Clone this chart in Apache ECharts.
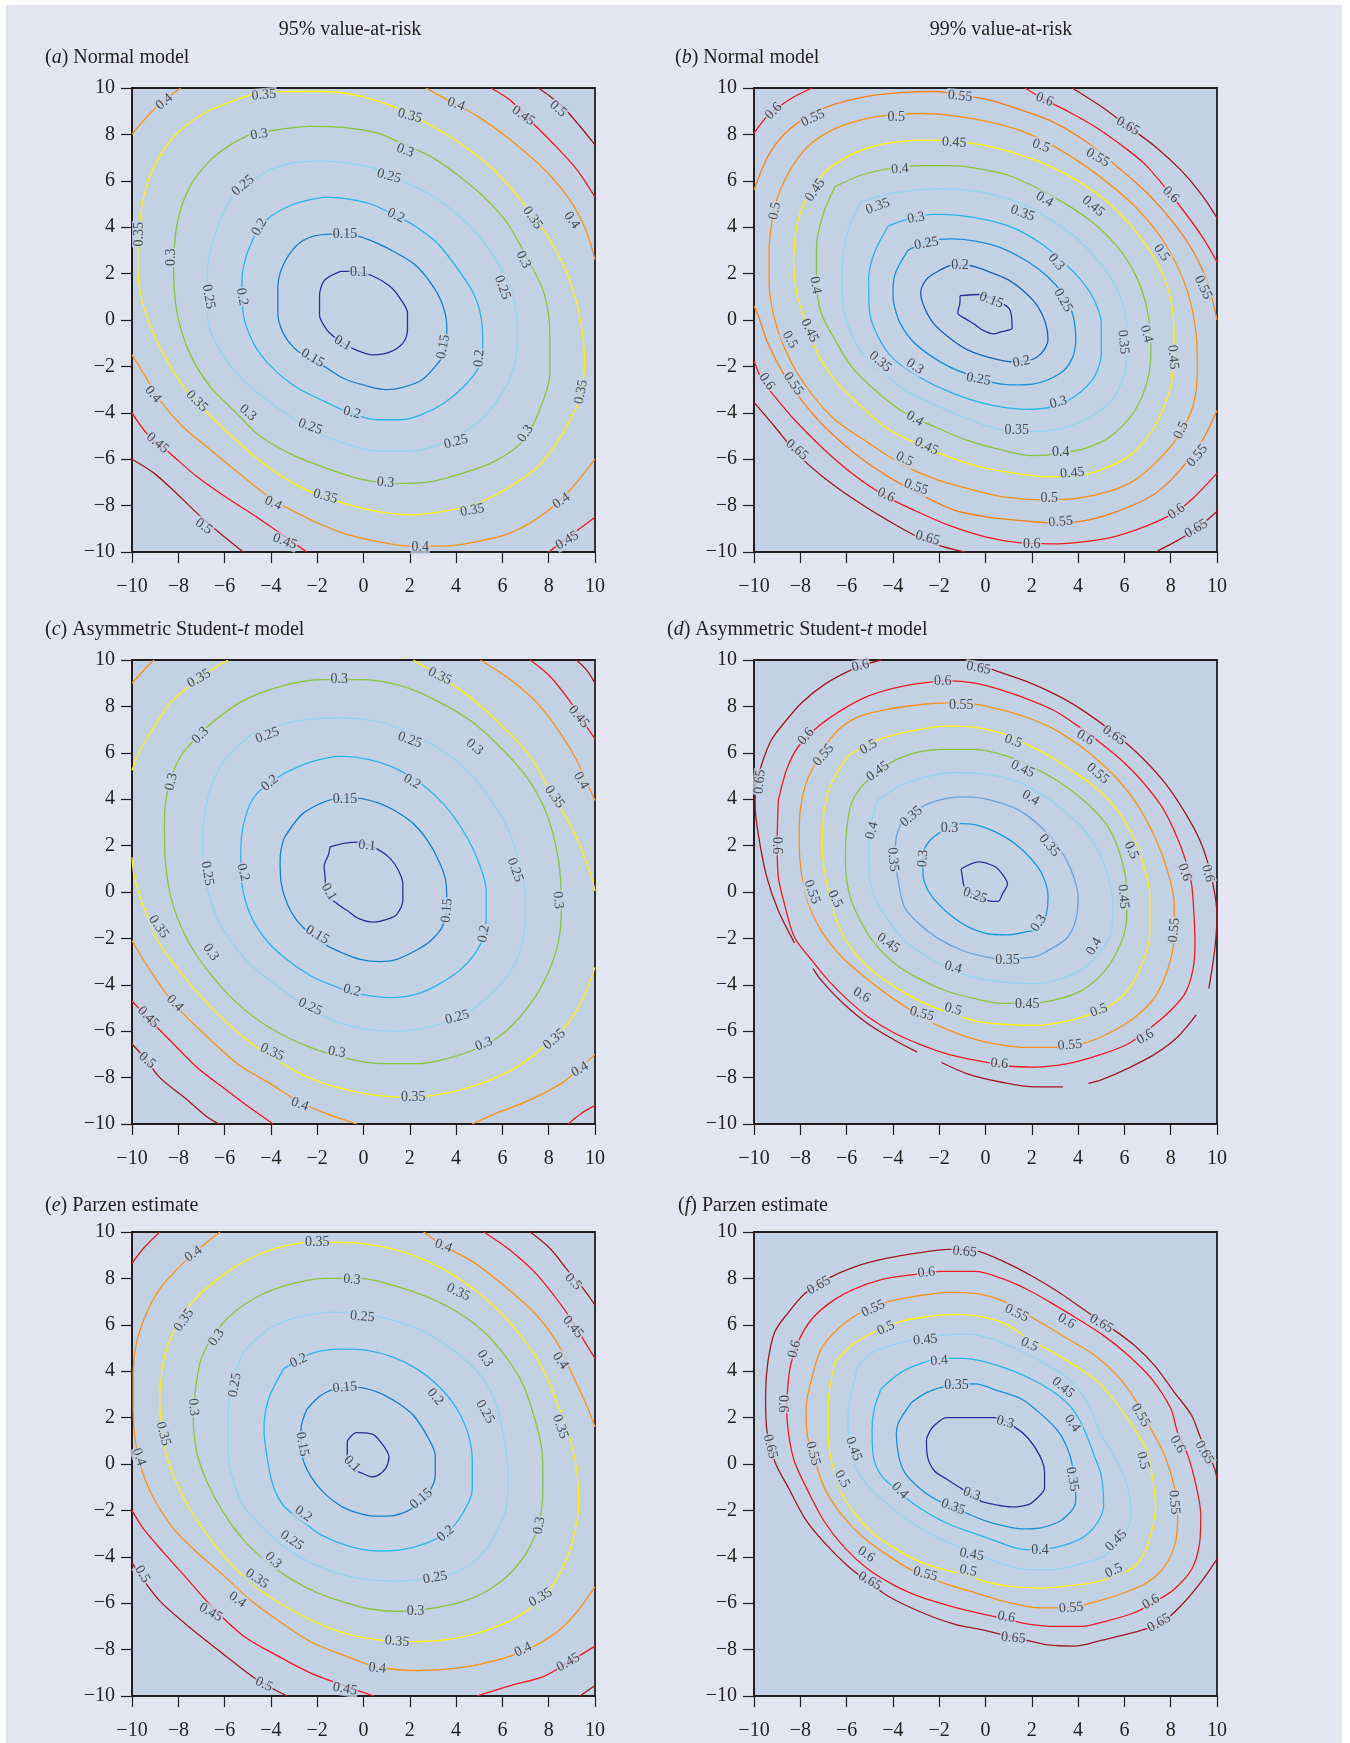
<!DOCTYPE html>
<html><head><meta charset="utf-8">
<script src="https://cdn.jsdelivr.net/npm/echarts@6/dist/echarts.min.js"></script>
<style>html,body{margin:0;padding:0;background:#fff}#c{width:1350px;height:1743px}</style>
</head><body><div id="c"></div>
<script>
// ---------- DATA: contour polylines (data units), each contour = list of segments ----------
const TICKS = [-10,-8,-6,-4,-2,0,2,4,6,8,10];

// (a) Normal model, 95%
const A_010 = [[[-1.0,2.1],[-0.6,2.1],[0.1,2.0],[0.6,1.8],[1.2,1.4],[1.6,0.9],[1.9,0.3],[1.9,-0.4],[1.7,-1.0],[1.1,-1.4],[0.4,-1.5],[-0.3,-1.3],[-0.9,-1.0],[-1.3,-0.7],[-1.6,-0.4],[-1.9,0.2],[-1.9,1.0],[-1.7,1.7],[-1.0,2.1]]];
const A_015 = [[[-1.4,3.7],[-0.9,3.7],[-0.2,3.6],[0.6,3.3],[1.4,2.9],[2.2,2.4],[2.9,1.6],[3.4,0.7],[3.6,-0.3],[3.5,-1.4],[3.1,-2.0],[2.5,-2.6],[1.7,-2.9],[1.0,-3.0],[0.0,-2.8],[-0.9,-2.5],[-1.7,-2.0],[-2.3,-1.7],[-3.0,-1.2],[-3.5,-0.5],[-3.7,0.3],[-3.7,1.4],[-3.5,2.3],[-2.9,3.2],[-2.2,3.6],[-1.4,3.7]]];
const A_020 = [[[-1.7,5.3],[-0.9,5.25],[0.3,5.0],[1.4,4.5],[2.3,4.0],[3.2,3.3],[4.0,2.3],[4.75,1.15],[5.1,0.0],[5.15,-1.0],[5.0,-2.0],[4.3,-2.9],[3.45,-3.6],[2.45,-4.1],[1.6,-4.3],[0.6,-4.3],[-0.6,-4.0],[-1.7,-3.5],[-2.9,-2.9],[-4.0,-2.0],[-4.75,-1.0],[-5.2,0.3],[-5.25,1.7],[-4.9,3.2],[-4.2,4.3],[-3.0,5.0],[-1.7,5.3]]];
const A_025 = [[[-4.0,6.5],[-2.9,6.8],[-1.7,6.85],[-0.6,6.75],[0.6,6.5],[1.7,6.0],[2.9,5.4],[4.0,4.6],[5.0,3.6],[5.9,2.3],[6.5,0.85],[6.65,-0.6],[6.5,-2.0],[5.9,-3.3],[4.9,-4.45],[3.45,-5.3],[2.0,-5.65],[0.6,-5.65],[-0.9,-5.3],[-2.3,-4.7],[-3.75,-3.75],[-5.2,-2.6],[-6.3,-1.15],[-6.75,0.3],[-6.75,2.0],[-6.3,4.0],[-5.5,5.5],[-4.0,6.5]]];
const A_030 = [[[-4.9,8.0],[-3.75,8.2],[-2.3,8.35],[-0.9,8.3],[0.6,8.05],[1.7,7.6],[2.9,7.05],[4.0,6.3],[5.2,5.3],[6.2,4.2],[7.05,2.7],[7.8,1.15],[8.05,-0.6],[8.05,-2.3],[7.6,-3.9],[6.9,-5.2],[5.75,-6.05],[4.3,-6.6],[2.7,-7.0],[1.3,-7.05],[-0.15,-6.85],[-1.7,-6.35],[-3.2,-5.75],[-4.6,-4.9],[-5.5,-4.0],[-6.6,-2.9],[-7.5,-1.45],[-8.05,0.3],[-8.2,2.15],[-8.05,4.15],[-7.5,5.75],[-6.6,6.9],[-5.75,7.55],[-4.9,8.0]]];
const A_035 = [[[-9.75,2.9],[-9.5,5.3],[-8.9,6.9],[-8.05,8.05],[-6.9,8.9],[-5.75,9.4],[-4.45,9.8],[-3.0,9.85],[-1.6,9.85],[-0.15,9.65],[1.3,9.2],[2.7,8.5],[4.2,7.6],[5.6,6.5],[6.9,5.05],[8.05,3.45],[8.9,1.75],[9.4,-0.15],[9.55,-1.9],[9.3,-3.45],[8.6,-4.9],[7.5,-6.35],[6.05,-7.35],[4.9,-7.9],[3.45,-8.25],[2.0,-8.4],[0.6,-8.25],[-0.85,-7.9],[-2.3,-7.4],[-3.75,-6.6],[-5.2,-5.45],[-6.6,-4.15],[-7.75,-2.9],[-8.8,-1.15],[-9.5,0.6],[-9.75,2.3],[-9.75,2.9]]];
const A_040 = [[[-10,8.0],[-9.5,8.6],[-8.8,9.3],[-7.9,10]],[[2.7,10],[3.6,9.5],[4.9,8.8],[6.3,7.8],[7.8,6.5],[8.9,5.2],[9.6,3.9],[10,2.6]],[[-10,-1.5],[-9.5,-2.3],[-8.8,-3.45],[-7.8,-4.6],[-6.6,-5.6],[-5.2,-6.75],[-3.9,-7.75],[-2.3,-8.6],[-0.85,-9.2],[0.6,-9.55],[2.0,-9.75],[3.45,-9.75],[4.9,-9.55],[6.3,-9.2],[7.8,-8.35],[8.9,-7.35],[10,-6.0]]];
const A_045 = [[[5.5,10],[6.3,9.5],[7.2,8.6],[8.2,7.6],[9.2,6.5],[10,5.3]],[[-10,-4.0],[-9.35,-4.9],[-8.35,-5.75],[-7.2,-6.75],[-6.0,-7.6],[-4.6,-8.5],[-3.3,-9.4],[-2.45,-10]],[[8.0,-10],[8.8,-9.4],[10,-8.5]]];
const A_050 = [[[7.55,10],[8.05,9.65],[8.65,9.15],[9.35,8.35],[10,7.55]],[[-10,-6.0],[-9.05,-6.6],[-8.05,-7.5],[-6.9,-8.6],[-6.0,-9.35],[-5.2,-10]]];
const A_LEVELS = [[0.1,A_010],[0.15,A_015],[0.2,A_020],[0.25,A_025],[0.3,A_030],[0.35,A_035],[0.4,A_040],[0.45,A_045],[0.5,A_050]];
const A_LABELS = [[-8.6,9.4,0.4],[-4.3,9.7,0.35],[2.0,8.8,0.35],[4.0,9.3,0.4],[6.9,8.8,0.45],[8.4,9.1,0.5],[-4.5,8.0,0.3],[1.8,7.3,0.3],[-5.2,5.8,0.25],[1.1,6.2,0.25],[1.4,4.5,0.2],[-4.5,4.0,0.2],[-0.8,3.7,0.15],[-0.2,2.05,0.1],[-9.7,3.7,0.35],[-8.3,2.7,0.3],[-6.7,1.0,0.25],[-5.25,1.0,0.2],[7.3,4.4,0.35],[9.0,4.3,0.4],[6.9,2.6,0.3],[6.0,1.4,0.25],[3.45,-1.15,0.15],[5.0,-1.65,0.2],[9.4,-3.1,0.35],[-0.9,-1.0,0.1],[-2.2,-1.65,0.15],[-0.5,-4.0,0.2],[-2.3,-4.6,0.25],[4.0,-5.25,0.25],[7.0,-4.9,0.3],[-5.0,-4.0,0.3],[-7.2,-3.5,0.35],[-9.1,-3.2,0.4],[-8.9,-5.3,0.45],[0.95,-7.0,0.3],[-1.65,-7.6,0.35],[4.7,-8.2,0.35],[-3.9,-7.9,0.4],[8.55,-7.8,0.4],[-6.9,-8.9,0.5],[-3.4,-9.55,0.45],[2.45,-9.8,0.4],[8.8,-9.5,0.45]];
const A_ANGLES = [40,5,-15,-20,-35,-40,10,-20,40,-15,-25,60,0,0,90,90,-80,-80,-55,-55,-65,-70,80,85,80,-30,-30,-15,-20,15,55,-40,-45,-50,-40,-5,-15,10,-25,35,-35,-20,0,30];

// (b) Normal model, 99%
const B_015 = [[[-1.1,1.05],[-0.25,1.1],[0.55,0.8],[1.05,0.45],[1.15,-0.35],[0.7,-0.5],[0.35,-0.6],[-0.1,-0.45],[-0.45,-0.2],[-0.85,0.05],[-1.2,0.3],[-1.1,0.8],[-1.1,1.05]]];
const B_020 = [[[-2.05,2.1],[-1.45,2.35],[-0.75,2.35],[0.1,2.1],[0.95,1.75],[1.7,1.2],[2.25,0.6],[2.6,-0.15],[2.7,-0.85],[2.4,-1.45],[1.85,-1.75],[1.1,-1.8],[0.1,-1.6],[-0.75,-1.3],[-1.45,-0.85],[-2.2,-0.2],[-2.6,0.45],[-2.8,1.15],[-2.55,1.75],[-2.05,2.1]]];
const B_025 = [[[-3.35,3.0],[-2.5,3.4],[-1.45,3.5],[-0.45,3.4],[0.7,3.1],[1.85,2.5],[2.7,1.85],[3.35,1.1],[3.75,0.3],[3.9,-0.85],[3.7,-1.75],[3.15,-2.35],[2.1,-2.75],[1.1,-2.8],[0.1,-2.65],[-0.75,-2.35],[-1.6,-2.0],[-2.5,-1.45],[-3.2,-0.85],[-3.75,0.0],[-4.0,1.15],[-3.9,2.0],[-3.35,3.0]]];
const B_030 = [[[-4.2,4.05],[-3.2,4.4],[-2.2,4.55],[-1.05,4.5],[0.1,4.3],[1.25,3.95],[2.4,3.3],[3.25,2.6],[4.1,1.75],[4.7,0.85],[5.0,-0.15],[5.0,-1.45],[4.7,-2.45],[3.85,-3.3],[2.85,-3.75],[1.7,-3.85],[0.4,-3.7],[-0.75,-3.4],[-1.9,-2.95],[-3.05,-2.35],[-4.05,-1.6],[-4.65,-0.7],[-5.0,0.3],[-5.05,1.75],[-4.8,2.9],[-4.2,4.05]]];
const B_035 = [[[-5.35,5.1],[-4.35,5.4],[-3.05,5.6],[-1.9,5.65],[-0.45,5.55],[0.7,5.3],[1.85,4.9],[2.85,4.3],[3.85,3.6],[4.7,2.75],[5.45,1.75],[5.95,0.6],[6.15,-0.85],[6.0,-2.3],[5.45,-3.45],[4.55,-4.15],[3.55,-4.6],[2.4,-4.8],[1.1,-4.8],[0.0,-4.55],[-1.05,-4.15],[-2.2,-3.65],[-3.35,-3.1],[-4.35,-2.35],[-5.2,-1.6],[-5.8,-0.6],[-6.15,0.6],[-6.2,2.0],[-6.05,3.45],[-5.65,4.6],[-5.35,5.1]]];
const B_040 = [[[-6.5,5.75],[-5.35,6.25],[-4.05,6.55],[-2.75,6.65],[-1.6,6.65],[-0.45,6.55],[0.95,6.25],[2.4,5.6],[3.55,4.95],[4.7,4.15],[5.7,3.15],[6.45,2.0],[6.95,0.6],[7.15,-1.15],[7.0,-2.6],[6.45,-3.9],[5.55,-4.9],[4.55,-5.45],[3.25,-5.75],[2.0,-5.85],[0.7,-5.6],[-0.75,-5.2],[-2.2,-4.6],[-3.65,-3.9],[-4.8,-3.0],[-5.8,-2.0],[-6.5,-0.85],[-7.1,0.3],[-7.3,1.75],[-7.3,3.15],[-7.0,4.6],[-6.5,5.75]]];
const B_045 = [[[-8.3,2.45],[-8.15,4.05],[-7.75,5.2],[-6.95,6.35],[-5.95,7.05],[-4.8,7.5],[-3.65,7.7],[-2.5,7.75],[-1.35,7.7],[0.1,7.5],[1.55,7.1],[2.85,6.6],[4.15,5.9],[5.3,5.05],[6.3,4.05],[7.15,2.9],[7.75,1.75],[8.1,0.3],[8.15,-1.15],[8.05,-2.6],[7.65,-3.9],[7.0,-5.05],[6.15,-5.9],[5.0,-6.45],[3.85,-6.75],[2.55,-6.75],[1.25,-6.6],[-0.15,-6.35],[-1.6,-5.9],[-3.05,-5.3],[-4.35,-4.6],[-5.5,-3.6],[-6.5,-2.6],[-7.25,-1.45],[-7.8,0.0],[-8.15,1.15],[-8.3,2.45]]];
const B_050 = [[[-9.35,3.15],[-9.1,4.9],[-8.5,6.35],[-7.65,7.5],[-6.5,8.25],[-5.05,8.7],[-3.9,8.85],[-2.75,8.9],[-1.35,8.8],[0.1,8.55],[1.55,8.15],[2.85,7.55],[4.15,6.75],[5.3,5.9],[6.45,4.9],[7.45,3.75],[8.15,2.6],[8.75,1.15],[9.1,-0.6],[9.15,-2.15],[8.95,-3.75],[8.3,-5.05],[7.45,-6.05],[6.45,-6.9],[5.3,-7.4],[3.85,-7.7],[2.4,-7.75],[0.95,-7.65],[-0.45,-7.35],[-2.2,-6.85],[-3.65,-6.2],[-5.05,-5.3],[-6.5,-4.3],[-7.65,-3.0],[-8.5,-1.6],[-9.1,0.0],[-9.35,1.75],[-9.35,3.15]]];
const B_055 = [[[-10,5.6],[-9.4,7.05],[-8.65,8.05],[-7.65,8.8],[-6.5,9.3],[-5.05,9.65],[-3.65,9.8],[-2.2,9.85],[-1.05,9.7],[0.1,9.5],[1.55,9.05],[3.0,8.5],[4.4,7.65],[5.7,6.6],[7.0,5.45],[8.15,4.15],[9.0,2.9],[9.6,1.6],[10,0.0]],[[10,-3.9],[9.3,-5.3],[8.15,-6.75],[7.15,-7.6],[5.7,-8.25],[4.3,-8.65],[3.0,-8.75],[1.55,-8.65],[0.1,-8.5],[-1.35,-8.2],[-2.75,-7.55],[-4.2,-6.75],[-5.65,-5.75],[-6.95,-4.6],[-7.95,-3.45],[-8.65,-2.45],[-9.4,-1.0],[-9.8,0.15],[-10,0.6]]];
const B_060 = [[[-10,8.05],[-9.55,8.65],[-9.1,9.05],[-8.4,9.55],[-7.5,10]],[[1.7,10],[2.55,9.5],[3.55,9.0],[4.7,8.35],[5.85,7.55],[6.85,6.75],[7.85,5.6],[8.75,4.45],[9.45,3.45],[10,2.5]],[[10,-6.6],[9.0,-7.65],[8.25,-8.25],[7.15,-8.8],[5.7,-9.3],[4.3,-9.55],[2.85,-9.65],[1.4,-9.6],[0.0,-9.35],[-1.45,-8.9],[-2.75,-8.35],[-4.3,-7.6],[-5.65,-6.7],[-6.95,-5.6],[-8.25,-4.3],[-9.1,-3.3],[-9.65,-2.6],[-10,-1.75]]];
const B_065 = [[[3.75,10],[5.0,9.2],[6.15,8.35],[7.3,7.5],[8.45,6.45],[9.3,5.45],[10,4.4]],[[-10,-3.55],[-9.1,-4.6],[-8.15,-5.75],[-7.1,-6.7],[-5.65,-7.75],[-4.2,-8.65],[-2.5,-9.55],[-0.9,-10]],[[7.35,-10],[8.3,-9.5],[9.1,-9.0],[10,-8.25]]];
const B_LEVELS = [[0.15,B_015],[0.2,B_020],[0.25,B_025],[0.3,B_030],[0.35,B_035],[0.4,B_040],[0.45,B_045],[0.5,B_050],[0.55,B_055],[0.6,B_060],[0.65,B_065]];
const B_LABELS = [[-9.15,9.0,0.6],[-7.45,8.7,0.55],[-3.85,8.75,0.5],[-1.1,9.65,0.55],[2.55,9.5,0.6],[6.15,8.35,0.65],[-1.35,7.65,0.45],[2.4,7.5,0.5],[4.85,7.0,0.55],[-3.7,6.5,0.4],[-7.35,5.6,0.45],[-9.1,4.7,0.5],[-4.65,4.9,0.35],[2.55,5.2,0.4],[1.6,4.6,0.35],[4.65,4.9,0.45],[8.0,5.4,0.6],[-3.0,4.4,0.3],[-2.55,3.3,0.25],[-1.1,2.35,0.2],[0.25,0.85,0.15],[3.05,2.5,0.3],[3.35,0.85,0.25],[7.6,2.9,0.5],[9.4,1.4,0.55],[-7.35,1.5,0.4],[-7.6,-0.45,0.45],[-8.45,-0.85,0.5],[-9.45,-2.65,0.6],[-8.3,-2.75,0.55],[-4.55,-1.8,0.35],[-3.05,-2.0,0.3],[-0.3,-2.55,0.25],[1.55,-1.8,0.2],[5.95,-0.95,0.35],[6.95,-0.6,0.4],[8.1,-1.6,0.45],[3.15,-3.55,0.3],[1.35,-4.75,0.35],[-3.05,-4.25,0.4],[3.25,-5.7,0.4],[-2.55,-5.45,0.45],[3.75,-6.6,0.45],[8.45,-4.75,0.5],[-3.5,-6.0,0.5],[2.75,-7.7,0.5],[9.15,-5.85,0.55],[-3.0,-7.2,0.55],[3.25,-8.7,0.55],[8.25,-8.25,0.6],[-4.3,-7.55,0.6],[2.0,-9.65,0.6],[-8.15,-5.6,0.65],[-2.5,-9.4,0.65],[9.1,-9.0,0.65]];
const B_ANGLES = [45,25,0,-5,-20,-30,-3,-20,-30,5,55,80,20,-30,-20,-40,-45,10,10,0,-20,-50,-60,-55,-65,-80,-65,-60,-55,-55,-40,-35,-10,10,-85,-75,-85,15,0,-30,0,-25,5,65,-25,0,50,-20,5,35,-25,0,-40,-15,30];

// (c) Asymmetric Student-t, 95%
const C_010 = [[[-1.45,1.95],[-0.85,2.1],[-0.2,2.15],[0.6,1.85],[1.15,1.45],[1.5,0.95],[1.7,0.35],[1.7,-0.35],[1.45,-0.95],[1.1,-1.15],[0.45,-1.3],[-0.2,-1.15],[-0.7,-0.8],[-1.15,-0.5],[-1.65,0.0],[-1.65,0.5],[-1.7,1.1],[-1.5,1.65],[-1.45,1.95]]];
const C_015 = [[[-2.0,3.75],[-1.3,4.0],[-0.3,4.05],[0.6,3.85],[1.45,3.45],[2.15,2.95],[2.75,2.25],[3.25,1.35],[3.55,0.5],[3.6,-0.5],[3.4,-1.5],[2.9,-2.1],[2.3,-2.5],[1.45,-2.9],[0.7,-3.0],[-0.15,-2.9],[-0.85,-2.65],[-1.6,-2.3],[-2.3,-1.8],[-2.9,-1.2],[-3.3,-0.5],[-3.55,0.35],[-3.6,1.35],[-3.45,2.25],[-3.0,2.95],[-2.6,3.4],[-2.0,3.75]]];
const C_020 = [[[-3.45,5.1],[-2.3,5.6],[-1.0,5.85],[0.3,5.7],[1.45,5.3],[2.45,4.7],[3.45,3.8],[4.3,2.65],[4.95,1.35],[5.3,0.05],[5.3,-1.1],[5.05,-2.25],[4.3,-3.25],[3.3,-3.95],[2.3,-4.4],[1.15,-4.55],[-0.15,-4.4],[-1.15,-4.1],[-2.3,-3.6],[-3.45,-2.8],[-4.3,-1.95],[-4.9,-0.95],[-5.25,0.35],[-5.3,1.8],[-5.1,3.25],[-4.6,4.25],[-3.45,5.1]]];
const C_025 = [[[-4.75,6.85],[-3.0,7.35],[-1.15,7.5],[0.6,7.35],[2.0,6.85],[3.15,6.25],[4.3,5.4],[5.3,4.25],[6.2,2.8],[6.75,1.2],[7.0,-0.5],[6.85,-2.25],[6.2,-3.65],[5.05,-4.8],[3.75,-5.55],[2.45,-5.9],[1.3,-6.0],[0.0,-5.9],[-1.15,-5.6],[-2.3,-5.05],[-3.45,-4.25],[-4.75,-3.25],[-5.75,-2.1],[-6.45,-0.8],[-6.85,0.65],[-6.95,2.25],[-6.75,3.95],[-6.2,5.4],[-5.45,6.25],[-4.75,6.85]]];
const C_030 = [[[-6.6,7.25],[-5.2,8.25],[-3.45,8.9],[-1.75,9.15],[0.0,9.15],[1.75,8.85],[3.15,8.25],[4.6,7.4],[5.9,6.25],[7.05,4.95],[7.9,3.4],[8.4,1.5],[8.55,-0.5],[8.4,-2.25],[7.75,-3.95],[6.75,-5.4],[5.6,-6.4],[4.05,-7.05],[2.3,-7.4],[0.85,-7.4],[-0.6,-7.2],[-2.3,-6.7],[-4.05,-5.85],[-5.45,-4.8],[-6.6,-3.55],[-7.5,-2.25],[-8.2,-0.65],[-8.55,1.2],[-8.6,2.95],[-8.45,4.4],[-7.9,5.85],[-6.6,7.25]]];
const C_035 = [[[-10,5.25],[-9.65,6.1],[-9.05,7.1],[-8.35,8.15],[-7.5,8.9],[-6.6,9.55],[-5.85,10]],[[2.15,10],[3.3,9.3],[4.6,8.4],[6.05,7.1],[7.2,5.85],[8.05,4.4],[8.9,2.95],[9.5,1.65],[9.85,0.65],[10,0.05]],[[10,-3.25],[9.5,-4.55],[8.8,-5.7],[7.75,-6.7],[6.35,-7.7],[4.3,-8.5],[2.0,-8.85],[0.15,-8.7],[-2.0,-8.15],[-3.75,-7.25],[-5.2,-6.25],[-6.6,-4.95],[-7.75,-3.65],[-8.8,-2.25],[-9.5,-0.65],[-9.9,0.65],[-10,1.5]]];
const C_040 = [[[-10,9.0],[-9.5,9.55],[-9.05,10]],[[5.05,10],[6.35,9.15],[7.5,8.15],[8.5,6.85],[9.2,5.7],[9.65,4.7],[10,3.95]],[[10,-7.0],[9.4,-7.55],[8.55,-8.25],[7.1,-9.0],[5.7,-9.55],[4.7,-10]],[[-10,-2.1],[-9.2,-3.4],[-8.2,-4.8],[-6.9,-6.1],[-5.45,-7.4],[-4.05,-8.25],[-2.75,-9.05],[-1.6,-9.55],[-0.3,-10]]];
const C_045 = [[[7.2,10],[8.05,9.3],[8.9,8.25],[9.35,7.55],[10,6.6]],[[-10,-4.7],[-9.35,-5.4],[-8.35,-6.4],[-7.2,-7.55],[-5.9,-8.55],[-4.9,-9.3],[-3.9,-10]],[[8.85,-10],[9.4,-9.55],[10,-9.2]]];
const C_050 = [[[9.2,10],[9.65,9.55],[10,9.0]],[[-10,-6.55],[-9.5,-7.1],[-8.8,-8.0],[-7.75,-8.85],[-6.75,-9.7],[-6.25,-10]]];
const C_LEVELS = [[0.1,C_010],[0.15,C_015],[0.2,C_020],[0.25,C_025],[0.3,C_030],[0.35,C_035],[0.4,C_040],[0.45,C_045],[0.5,C_050]];
const C_LABELS = [[-7.1,9.2,0.35],[-1.05,9.15,0.3],[3.3,9.3,0.35],[9.3,7.55,0.45],[-7.05,6.75,0.3],[-4.15,6.75,0.25],[2.0,6.55,0.25],[4.8,6.25,0.3],[-8.3,4.75,0.3],[-4.05,4.7,0.2],[2.1,4.75,0.2],[9.4,4.8,0.4],[8.25,4.1,0.35],[-0.8,4.0,0.15],[0.15,2.0,0.1],[-6.75,0.8,0.25],[-5.2,0.85,0.2],[6.55,0.95,0.25],[8.4,-0.35,0.3],[-1.5,0.0,0.1],[3.6,-0.8,0.15],[5.2,-1.8,0.2],[-8.85,-1.5,0.35],[-6.6,-2.6,0.3],[-2.0,-1.85,0.15],[-0.5,-4.25,0.2],[-2.3,-4.95,0.25],[4.05,-5.4,0.25],[-8.15,-4.8,0.4],[-9.3,-5.4,0.45],[-1.15,-6.9,0.3],[5.2,-6.55,0.3],[8.25,-6.35,0.35],[-3.95,-6.9,0.35],[-9.35,-7.25,0.5],[9.35,-7.65,0.4],[-2.75,-9.15,0.4],[2.15,-8.85,0.35]];
const C_ANGLES = [30,0,-25,-50,45,20,-20,-40,75,40,-30,-60,-55,0,-5,-80,-75,-70,-85,-60,85,80,-55,-55,-30,-15,-25,15,-45,-45,-10,20,40,-25,-40,30,-20,0];

// (d) Asymmetric Student-t, 99%
const D_025 = [[[-1.05,1.0],[-0.3,1.3],[0.4,1.1],[0.7,0.8],[0.95,0.35],[0.75,-0.05],[0.55,-0.4],[0.3,-0.4],[-0.45,-0.15],[-0.9,0.2],[-1.0,0.65],[-1.05,1.0]]];
const D_030 = [[[-2.2,2.4],[-1.6,2.8],[-1.05,2.95],[-0.45,2.9],[0.4,2.6],[1.25,2.1],[2.0,1.4],[2.5,0.65],[2.7,-0.2],[2.6,-1.05],[2.25,-1.6],[1.85,-1.7],[0.95,-1.85],[0.1,-1.8],[-0.75,-1.5],[-1.45,-1.05],[-2.05,-0.5],[-2.5,0.1],[-2.7,0.8],[-2.7,1.65],[-2.5,2.1],[-2.2,2.4]]];
const D_035 = [[[-3.65,2.95],[-2.6,3.75],[-1.6,4.05],[-0.75,4.1],[0.25,3.95],[1.4,3.55],[2.4,2.8],[3.15,1.95],[3.7,0.95],[4.0,-0.2],[3.9,-1.2],[3.55,-1.95],[3.0,-2.35],[2.25,-2.75],[1.55,-2.85],[0.7,-2.9],[-0.2,-2.75],[-1.05,-2.5],[-2.05,-2.0],[-2.9,-1.35],[-3.5,-0.65],[-3.75,0.35],[-3.9,1.5],[-3.85,2.4],[-3.65,2.95]]];
const D_040 = [[[-4.65,3.95],[-3.65,4.6],[-2.6,4.95],[-1.45,5.15],[-0.2,5.1],[1.1,4.85],[2.1,4.4],[3.15,3.7],[4.15,2.8],[4.85,1.8],[5.3,0.65],[5.5,-0.5],[5.45,-1.65],[5.0,-2.5],[4.3,-3.25],[3.25,-3.75],[2.1,-3.95],[0.95,-3.9],[-0.2,-3.75],[-1.35,-3.4],[-2.5,-2.8],[-3.5,-2.1],[-4.2,-1.2],[-4.8,-0.2],[-5.05,1.1],[-5.05,2.4],[-4.8,3.5],[-4.65,3.95]]];
const D_045 = [[[-4.9,4.95],[-4.05,5.6],[-3.05,6.0],[-1.75,6.15],[-0.45,6.15],[0.95,5.85],[2.1,5.35],[3.25,4.7],[4.4,3.8],[5.3,2.8],[5.85,1.5],[6.1,0.1],[6.1,-1.05],[5.85,-2.2],[5.15,-3.4],[4.15,-4.25],[3.0,-4.65],[1.85,-4.8],[0.7,-4.8],[-0.45,-4.6],[-1.6,-4.3],[-2.75,-3.8],[-3.9,-3.1],[-4.8,-2.2],[-5.35,-1.35],[-5.85,-0.2],[-6.05,1.25],[-6.0,2.65],[-5.8,3.8],[-5.35,4.55],[-4.9,4.95]]];
const D_050 = [[[-5.95,5.85],[-5.05,6.4],[-4.05,6.75],[-2.9,7.0],[-1.75,7.15],[-0.45,7.1],[0.7,6.85],[1.7,6.4],[2.7,5.9],[3.7,5.25],[4.7,4.55],[5.55,3.7],[6.3,2.55],[6.85,1.1],[7.1,-0.2],[7.1,-1.8],[6.7,-3.25],[6.0,-4.4],[5.0,-5.1],[3.55,-5.55],[2.1,-5.75],[0.7,-5.7],[-0.45,-5.55],[-1.6,-5.2],[-2.75,-4.75],[-3.9,-4.1],[-5.05,-3.25],[-5.95,-2.2],[-6.5,-1.05],[-6.85,0.35],[-7.05,1.8],[-7.0,3.25],[-6.65,4.7],[-5.95,5.85]]];
const D_055 = [[[-7.35,5.55],[-6.5,6.85],[-5.5,7.55],[-4.35,7.85],[-3.05,8.05],[-1.6,8.15],[-0.45,8.1],[0.7,7.85],[1.85,7.5],[3.0,7.0],[4.15,6.25],[5.0,5.55],[5.85,4.7],[6.6,3.7],[7.3,2.4],[7.85,0.95],[8.15,-0.5],[8.15,-1.95],[7.85,-3.4],[7.3,-4.55],[6.45,-5.4],[5.3,-6.1],[4.15,-6.55],[3.0,-6.7],[1.85,-6.7],[0.7,-6.6],[-0.45,-6.35],[-1.6,-5.95],[-2.75,-5.4],[-3.9,-4.65],[-5.05,-3.8],[-6.2,-2.8],[-7.1,-1.65],[-7.65,-0.5],[-7.95,0.8],[-8.05,2.1],[-8.0,3.55],[-7.75,4.7],[-7.35,5.55]]];
const D_060 = [[[-8.95,3.95],[-8.6,5.25],[-8.1,6.25],[-7.2,7.15],[-6.2,7.85],[-5.05,8.45],[-3.9,8.8],[-2.75,9.0],[-1.6,9.1],[-0.45,9.0],[0.7,8.7],[1.85,8.3],[3.0,7.8],[4.0,7.15],[5.0,6.4],[5.85,5.7],[6.7,4.85],[7.6,3.7],[8.15,2.65],[8.6,1.5],[8.9,0.35],[9.0,-0.9],[9.05,-2.2],[8.95,-3.4],[8.6,-4.4],[7.85,-5.25],[7.0,-5.95],[6.15,-6.55],[5.0,-7.0],[3.55,-7.4],[2.1,-7.55],[0.95,-7.5],[-0.45,-7.25],[-1.6,-7.0],[-2.75,-6.6],[-3.9,-6.1],[-5.05,-5.4],[-5.95,-4.65],[-6.8,-3.8],[-7.5,-2.95],[-8.25,-1.95],[-8.65,-0.65],[-8.95,0.65],[-9.0,2.1],[-8.95,3.95]]];
const D_065 = [[[-8.25,-2.2],[-8.95,-0.8],[-9.45,0.65],[-9.8,2.4],[-9.95,3.7],[-9.95,4.4],[-9.65,5.55],[-9.25,6.55],[-8.65,7.35],[-7.95,8.15],[-6.95,8.95],[-5.95,9.5],[-5.05,9.85],[-4.5,10]],[[-0.9,10],[0.4,9.55],[1.85,9.05],[3.25,8.4],[4.4,7.7],[5.55,6.85],[6.7,5.85],[7.75,4.7],[8.6,3.45],[9.25,2.25],[9.65,1.1],[9.9,-0.05],[10,-1.05],[9.9,-2.5],[9.65,-4.15]],[[9.1,-5.3],[8.3,-6.25],[7.3,-7.0],[6.15,-7.6],[5.0,-8.1],[4.45,-8.25]],[[3.35,-8.4],[2.1,-8.4],[0.7,-8.2],[-0.75,-7.85],[-1.9,-7.35]],[[-2.95,-6.9],[-3.9,-6.4],[-5.05,-5.7],[-6.2,-4.75],[-7.1,-3.8],[-7.45,-3.3]]];
const D_LEVELS = [[0.25,D_025],[0.3,D_030],[0.35,D_035],[0.4,D_040],[0.45,D_045],[0.5,D_050],[0.55,D_055],[0.6,D_060],[0.65,D_065]];
const D_LABELS = [[-5.4,9.75,0.6],[-0.3,9.65,0.65],[-1.85,9.1,0.6],[-1.05,8.05,0.55],[-7.75,6.7,0.6],[-7.0,5.9,0.55],[-5.05,6.25,0.5],[-4.65,5.2,0.45],[-9.75,4.75,0.65],[1.2,6.5,0.5],[1.6,5.3,0.45],[1.95,4.05,0.4],[4.3,6.65,0.6],[5.55,6.75,0.65],[4.85,5.1,0.55],[-3.2,3.25,0.35],[-4.9,2.65,0.4],[-1.55,2.75,0.3],[-4.0,1.4,0.35],[-2.7,1.45,0.3],[2.75,2.0,0.35],[-9.0,2.0,0.6],[6.3,1.8,0.5],[8.6,0.85,0.6],[9.6,0.8,0.6],[-0.45,-0.15,0.25],[-7.5,0.0,0.55],[-6.5,-0.3,0.5],[5.95,-0.2,0.45],[2.3,-1.35,0.3],[8.15,-1.65,0.55],[-4.2,-2.2,0.45],[0.95,-2.95,0.35],[4.7,-2.35,0.4],[-1.4,-3.25,0.4],[-5.35,-4.45,0.6],[-1.4,-5.05,0.5],[1.8,-4.85,0.45],[4.9,-5.1,0.5],[-2.75,-5.25,0.55],[3.65,-6.6,0.55],[6.9,-6.25,0.6],[0.6,-7.4,0.6]];
const D_ANGLES = [15,-10,0,0,50,50,30,35,85,-20,-25,-30,-30,-35,-40,40,75,0,-85,85,-50,-90,-65,-70,-75,-20,-70,-65,-85,55,85,-35,0,60,-15,-30,-15,0,20,-15,5,30,-5];

// (e) Parzen estimate, 95%
const E_010 = [[[-0.7,1.0],[-0.3,1.35],[0.35,1.3],[0.7,1.0],[1.1,0.3],[0.95,-0.2],[0.6,-0.5],[0.35,-0.55],[-0.05,-0.4],[-0.55,-0.15],[-0.7,0.35],[-0.7,1.0]]];
const E_015 = [[[-2.45,2.35],[-1.85,2.95],[-1.15,3.25],[-0.3,3.3],[0.6,3.1],[1.45,2.65],[2.15,2.1],[2.75,1.2],[3.1,0.35],[3.1,-0.5],[2.9,-1.1],[2.45,-1.65],[1.75,-2.1],[1.0,-2.25],[0.45,-2.25],[-0.3,-2.1],[-1.0,-1.8],[-1.75,-1.2],[-2.3,-0.5],[-2.65,0.35],[-2.7,1.5],[-2.45,2.35]]];
const E_020 = [[[-3.45,4.1],[-2.3,4.75],[-1.0,4.95],[0.15,4.9],[1.3,4.6],[2.3,4.1],[3.3,3.3],[4.05,2.35],[4.55,1.2],[4.7,0.05],[4.7,-1.1],[4.3,-2.1],[3.6,-2.95],[2.6,-3.45],[1.6,-3.7],[0.6,-3.75],[-0.6,-3.55],[-1.75,-3.1],[-2.6,-2.5],[-3.45,-1.8],[-3.9,-0.95],[-4.15,0.2],[-4.3,1.5],[-4.1,2.8],[-3.45,4.1]]];
const E_025 = [[[-5.2,4.8],[-4.05,5.85],[-2.75,6.35],[-1.3,6.55],[0.15,6.45],[1.6,6.1],[2.9,5.55],[4.15,4.7],[5.2,3.65],[5.75,2.5],[6.05,1.2],[6.25,-0.3],[6.2,-1.65],[5.75,-2.95],[4.9,-4.1],[3.9,-4.7],[2.6,-4.95],[1.3,-5.05],[0.0,-4.95],[-1.15,-4.7],[-2.3,-4.25],[-3.45,-3.55],[-4.45,-2.65],[-5.2,-1.8],[-5.6,-0.8],[-5.85,0.35],[-5.85,1.8],[-5.75,3.25],[-5.2,4.8]]];
const E_030 = [[[-6.6,5.4],[-5.75,6.4],[-4.6,7.2],[-3.15,7.75],[-1.6,8.0],[-0.15,8.0],[1.3,7.7],[2.75,7.2],[4.05,6.55],[5.2,5.7],[6.2,4.55],[6.9,3.4],[7.35,2.1],[7.7,0.65],[7.75,-0.8],[7.65,-2.25],[7.2,-3.55],[6.35,-4.7],[5.2,-5.55],[4.05,-6.0],[2.75,-6.25],[1.45,-6.35],[0.3,-6.25],[-0.85,-5.95],[-2.0,-5.55],[-3.15,-4.95],[-4.15,-4.25],[-5.2,-3.25],[-6.05,-2.1],[-6.75,-0.8],[-7.2,0.5],[-7.35,1.95],[-7.25,3.25],[-7.05,4.4],[-6.6,5.4]]];
const E_035 = [[[-8.8,2.95],[-8.65,4.4],[-8.2,5.7],[-7.5,6.85],[-6.45,7.85],[-5.2,8.7],[-3.75,9.3],[-2.3,9.55],[-0.85,9.55],[0.6,9.4],[2.0,9.05],[3.45,8.4],[4.75,7.55],[5.9,6.55],[6.9,5.4],[7.75,4.1],[8.35,2.65],[8.9,1.2],[9.2,-0.2],[9.3,-1.65],[9.05,-3.25],[8.5,-4.7],[7.65,-5.85],[6.45,-6.7],[5.2,-7.2],[3.75,-7.55],[2.3,-7.65],[0.85,-7.6],[-0.6,-7.35],[-2.0,-6.85],[-3.45,-6.1],[-4.9,-5.1],[-6.05,-3.95],[-7.05,-2.65],[-7.9,-1.2],[-8.5,0.35],[-8.75,1.8],[-8.8,2.95]]];
const E_040 = [[[-6.2,10],[-7.2,9.2],[-8.05,8.4],[-8.8,7.55],[-9.35,6.55],[-9.8,5.25],[-9.95,3.95],[-9.95,2.35],[-9.85,0.95],[-9.55,-0.35],[-9.05,-1.5],[-8.2,-2.8],[-7.2,-3.8],[-6.05,-4.8],[-4.9,-5.85],[-3.75,-6.7],[-2.3,-7.65],[-0.85,-8.25],[0.6,-8.75],[2.3,-8.9],[4.05,-8.8],[5.6,-8.5],[7.05,-8.0],[8.35,-7.25],[9.2,-6.4],[10,-5.3]],[[2.6,10],[3.45,9.4],[4.75,8.7],[6.05,7.7],[7.35,6.55],[8.35,5.25],[9.05,3.8],[9.65,2.5],[10,1.6]]];
const E_045 = [[[-10,8.65],[-9.5,9.3],[-8.8,10]],[[-10,-2.0],[-9.5,-2.8],[-8.65,-3.8],[-7.75,-4.8],[-6.6,-6.1],[-5.2,-7.4],[-3.75,-8.25],[-2.3,-9.0],[-0.85,-9.55],[0.45,-10]],[[5.2,10],[6.35,9.2],[7.5,8.15],[8.65,6.7],[9.2,5.85],[10,4.55]],[[4.9,-10],[6.35,-9.55],[7.8,-9.15],[8.85,-8.55],[10,-7.85]]];
const E_050 = [[[7.2,10],[8.05,9.3],[8.9,8.25],[9.5,7.55],[10,6.85]],[[-10,-4.25],[-9.65,-4.8],[-8.8,-5.9],[-7.5,-7.05],[-6.05,-8.2],[-4.6,-9.3],[-3.3,-10]],[[9.35,-10],[10,-9.55]]];
const E_LEVELS = [[0.1,E_010],[0.15,E_015],[0.2,E_020],[0.25,E_025],[0.3,E_030],[0.35,E_035],[0.4,E_040],[0.45,E_045],[0.5,E_050]];
const E_LABELS = [[-7.35,9.05,0.4],[-2.0,9.55,0.35],[3.45,9.4,0.4],[-0.5,7.95,0.3],[4.1,7.4,0.35],[9.05,7.85,0.5],[-0.05,6.35,0.25],[-7.75,6.2,0.35],[-6.35,5.45,0.3],[9.05,5.9,0.45],[5.25,4.55,0.3],[8.5,4.45,0.4],[-2.8,4.45,0.2],[-5.55,3.4,0.25],[-0.8,3.3,0.15],[3.1,2.9,0.2],[5.25,2.25,0.25],[-7.35,2.45,0.3],[8.5,1.6,0.35],[-8.65,1.3,0.35],[-2.65,0.85,0.15],[-9.7,0.3,0.4],[-0.5,0.0,0.1],[2.5,-1.5,0.15],[-2.6,-2.15,0.2],[7.6,-2.65,0.3],[3.55,-3.0,0.2],[-3.1,-3.3,0.25],[-3.9,-4.15,0.3],[3.1,-4.9,0.25],[-4.6,-4.95,0.35],[-9.55,-4.75,0.5],[-5.45,-5.85,0.4],[7.65,-5.75,0.35],[-6.6,-6.4,0.45],[2.25,-6.35,0.3],[1.45,-7.65,0.35],[6.9,-8.0,0.4],[0.6,-8.8,0.4],[8.85,-8.55,0.45],[-4.3,-9.5,0.5],[-0.8,-9.7,0.45]];
const E_ANGLES = [35,0,-20,-5,-25,-45,-5,55,55,-50,-55,-55,25,80,5,-50,-60,-85,-70,-75,-80,-70,-45,40,-35,80,40,-35,-45,10,-35,-60,-35,30,-30,0,-5,25,-5,30,-25,-10];

// (f) Parzen estimate, 99%
const F_030 = [[[-2.05,1.8],[-1.7,2.0],[-0.75,2.0],[0.4,2.0],[1.25,1.6],[1.85,1.1],[2.35,0.35],[2.55,-0.35],[2.55,-1.05],[2.2,-1.5],[1.85,-1.75],[1.1,-1.85],[0.4,-1.75],[-0.2,-1.6],[-1.05,-1.05],[-1.6,-0.7],[-2.2,-0.3],[-2.5,0.3],[-2.55,1.0],[-2.35,1.5],[-2.05,1.8]]];
const F_035 = [[[-3.2,2.65],[-2.5,3.1],[-1.45,3.4],[-0.45,3.45],[0.55,3.15],[1.55,2.8],[2.4,2.15],[3.15,1.4],[3.55,0.65],[3.75,-0.05],[3.9,-1.35],[3.85,-1.8],[3.55,-2.2],[3.15,-2.5],[2.4,-2.75],[1.55,-2.8],[0.7,-2.65],[0.0,-2.45],[-0.75,-2.15],[-1.45,-1.85],[-2.2,-1.5],[-2.9,-1.0],[-3.5,-0.35],[-3.75,0.35],[-3.85,1.25],[-3.75,1.8],[-3.2,2.65]]];
const F_040 = [[[-4.5,3.25],[-3.65,3.95],[-2.75,4.35],[-1.9,4.55],[-1.05,4.55],[-0.2,4.45],[0.95,4.1],[2.1,3.6],[3.15,2.95],[3.85,2.25],[4.3,1.4],[4.7,0.35],[5.0,-0.5],[5.1,-1.8],[4.85,-2.5],[4.3,-3.1],[3.55,-3.45],[2.7,-3.65],[2.0,-3.7],[1.25,-3.6],[0.4,-3.3],[-0.45,-3.0],[-1.45,-2.65],[-2.35,-2.2],[-3.2,-1.65],[-3.9,-1.05],[-4.5,-0.5],[-4.85,0.35],[-4.9,1.5],[-4.8,2.4],[-4.5,3.25]]];
const F_045 = [[[-5.5,4.25],[-4.8,4.85],[-3.75,5.2],[-2.9,5.4],[-1.9,5.55],[-0.75,5.6],[0.4,5.35],[1.55,4.85],[2.7,4.25],[3.55,3.7],[4.4,2.65],[5.0,1.25],[5.7,0.1],[6.15,-1.05],[6.3,-2.2],[5.85,-3.25],[5.15,-3.95],[4.3,-4.25],[3.0,-4.55],[1.85,-4.55],[0.7,-4.3],[-0.2,-3.95],[-1.05,-3.6],[-1.9,-3.25],[-2.75,-2.8],[-3.65,-2.2],[-4.5,-1.5],[-5.2,-0.8],[-5.65,-0.05],[-5.85,0.65],[-5.95,1.8],[-5.85,2.8],[-5.5,4.25]]];
const F_050 = [[[-6.5,4.4],[-5.8,5.1],[-4.8,5.7],[-3.65,6.15],[-2.5,6.35],[-1.35,6.45],[-0.2,6.35],[0.95,6.0],[1.85,5.4],[2.85,4.85],[3.85,4.25],[4.85,3.55],[5.7,2.55],[6.45,1.5],[7.0,0.5],[7.2,-0.5],[7.35,-1.8],[7.2,-2.8],[6.95,-3.65],[6.45,-4.4],[5.7,-4.8],[4.7,-5.1],[3.55,-5.25],[2.4,-5.35],[1.25,-5.3],[0.1,-5.1],[-0.75,-4.8],[-1.6,-4.6],[-2.75,-4.25],[-3.9,-3.65],[-4.9,-2.95],[-5.8,-1.95],[-6.35,-0.95],[-6.65,0.1],[-6.8,1.25],[-6.8,2.55],[-6.65,3.7],[-6.5,4.4]]];
const F_055 = [[[-7.5,3.7],[-7.1,4.95],[-6.35,5.85],[-5.35,6.55],[-4.2,7.0],[-2.9,7.25],[-1.6,7.4],[-0.45,7.35],[0.7,7.05],[1.7,6.5],[2.55,6.0],[3.55,5.4],[4.7,4.7],[5.7,3.8],[6.45,2.8],[7.15,1.5],[7.75,0.35],[8.15,-0.95],[8.3,-2.2],[8.2,-3.4],[7.75,-4.4],[7.0,-5.1],[6.0,-5.55],[4.7,-5.95],[3.55,-6.2],[2.4,-6.2],[0.95,-5.95],[-0.45,-5.55],[-1.9,-5.1],[-3.05,-4.65],[-4.2,-3.95],[-5.35,-3.1],[-6.2,-2.2],[-6.95,-1.05],[-7.35,0.1],[-7.7,1.25],[-7.75,2.4],[-7.5,3.7]]];
const F_060 = [[[-8.6,2.4],[-8.45,4.1],[-8.1,5.25],[-7.5,6.25],[-6.65,7.0],[-5.65,7.55],[-4.5,7.95],[-3.2,8.15],[-1.9,8.3],[-0.45,8.3],[0.7,8.0],[1.85,7.5],[3.0,6.85],[4.15,6.15],[5.15,5.5],[6.15,4.7],[7.15,3.7],[8.0,2.4],[8.3,1.35],[8.75,0.35],[9.1,-0.95],[9.3,-2.2],[9.25,-3.4],[8.9,-4.55],[8.15,-5.4],[7.3,-5.95],[6.45,-6.4],[5.3,-6.75],[4.15,-7.0],[3.0,-7.0],[1.85,-6.9],[0.95,-6.7],[-0.2,-6.45],[-1.6,-6.1],[-2.75,-5.75],[-3.9,-5.25],[-5.05,-4.55],[-6.05,-3.65],[-6.95,-2.5],[-7.65,-1.2],[-8.25,0.1],[-8.5,1.25],[-8.6,2.4]]];
const F_065 = [[[10,-4.1],[9.3,-5.1],[8.45,-6.1],[7.6,-6.85],[6.45,-7.25],[5.0,-7.6],[3.85,-7.85],[2.7,-7.8],[1.55,-7.55],[0.1,-7.2],[-1.35,-6.9],[-2.75,-6.4],[-4.2,-5.7],[-5.05,-5.1],[-5.95,-4.4],[-6.95,-3.4],[-7.8,-2.35],[-8.5,-1.05],[-9.1,0.1],[-9.45,1.5],[-9.5,2.95],[-9.4,4.4],[-9.1,5.7],[-8.5,6.55],[-7.8,7.35],[-6.8,8.0],[-5.65,8.5],[-4.35,8.85],[-2.9,9.1],[-1.6,9.25],[-0.45,9.2],[0.95,8.65],[2.1,8.05],[3.25,7.35],[4.4,6.55],[5.45,5.85],[6.45,5.1],[7.3,4.25],[8.15,3.1],[8.9,2.1],[9.3,1.1],[9.9,-0.2],[10,-0.65]]];
const F_LEVELS = [[0.3,F_030],[0.35,F_035],[0.4,F_040],[0.45,F_045],[0.5,F_050],[0.55,F_055],[0.6,F_060],[0.65,F_065]];
const F_LABELS = [[-0.9,9.15,0.65],[-2.55,8.25,0.6],[-7.2,7.7,0.65],[-4.85,6.7,0.55],[-4.3,5.85,0.5],[-2.6,5.35,0.45],[-2.0,4.45,0.4],[-1.25,3.4,0.35],[0.85,1.8,0.3],[1.35,6.5,0.55],[3.5,6.15,0.6],[5.0,6.05,0.65],[1.9,5.15,0.5],[3.35,3.3,0.45],[3.75,1.75,0.4],[-8.25,4.95,0.6],[6.7,2.1,0.55],[8.3,0.85,0.6],[9.45,0.5,0.65],[-8.75,2.6,0.6],[-9.3,0.75,0.65],[-7.45,0.45,0.55],[-5.7,0.65,0.45],[6.8,0.15,0.5],[3.75,-0.65,0.35],[-6.2,-0.65,0.5],[8.15,-1.65,0.55],[-3.7,-1.15,0.4],[-0.6,-1.3,0.3],[-1.4,-1.85,0.35],[5.65,-3.3,0.45],[2.35,-3.7,0.4],[-5.15,-3.9,0.6],[-0.6,-3.9,0.45],[5.55,-4.6,0.5],[-0.75,-4.6,0.5],[-2.6,-4.75,0.55],[-5.0,-5.05,0.65],[7.15,-5.95,0.6],[3.7,-6.2,0.55],[0.9,-6.6,0.6],[7.5,-6.85,0.65],[1.2,-7.5,0.65]];
const F_ANGLES = [-5,5,30,25,25,5,5,0,-15,-25,-30,-30,-25,-40,-55,75,-60,-60,-60,-90,-75,-75,-70,-75,-80,-60,-85,-45,-20,-20,45,0,-35,-10,25,-10,-15,-30,30,5,-10,30,-5];

// ---------- STYLE ----------
const FONT = '"Liberation Serif","Times New Roman",serif';
const INK = '#231f20';
const PLOT_BG = '#c3d1e3';
const PAL9 = {'0.10':'#2e3192','0.15':'#1b7fc4','0.20':'#2fb3e6','0.25':'#95d5f0','0.30':'#8cc63f','0.35':'#fff200','0.40':'#f7941d','0.45':'#ed1c24','0.50':'#9e1b20'};
const PAL_B = {'0.15':'#2e3192','0.20':'#1c62ad','0.25':'#1b8fd6','0.30':'#2fb3e6','0.35':'#95d5f0','0.40':'#8cc63f','0.45':'#fff200','0.50':'#f7941d','0.55':'#f58220','0.60':'#ed1c24','0.65':'#9e1b20'};
const PAL_D = {'0.25':'#2e3192','0.30':'#1b9ad6','0.35':'#6fa3d6','0.40':'#95d5f0','0.45':'#8cc63f','0.50':'#fff200','0.55':'#f7941d','0.60':'#ed1c24','0.65':'#9e1b20'};
const PAL_F = {'0.30':'#2e3192','0.35':'#1b8fd6','0.40':'#2fb3e6','0.45':'#95d5f0','0.50':'#fff200','0.55':'#f7941d','0.60':'#ed1c24','0.65':'#9e1b20'};

const PANELS = [
  {levels:A_LEVELS, pal:PAL9,  labels:A_LABELS, angles:A_ANGLES, left:132, top:88},
  {levels:B_LEVELS, pal:PAL_B, labels:B_LABELS, angles:B_ANGLES, left:754, top:88},
  {levels:C_LEVELS, pal:PAL9,  labels:C_LABELS, angles:C_ANGLES, left:132, top:660},
  {levels:D_LEVELS, pal:PAL_D, labels:D_LABELS, angles:D_ANGLES, left:754, top:660},
  {levels:E_LEVELS, pal:PAL9,  labels:E_LABELS, angles:E_ANGLES, left:132, top:1232},
  {levels:F_LEVELS, pal:PAL_F, labels:F_LABELS, angles:F_ANGLES, left:754, top:1232}
];

const tickFmt = v => v < 0 ? '\u2212' + Math.abs(v) : String(v);
const grids = [], xAxes = [], yAxes = [], series = [];
PANELS.forEach((P, p) => {
  grids.push({left:P.left, top:P.top, width:463, height:464, show:true, backgroundColor:PLOT_BG, borderColor:INK, borderWidth:1.8, containLabel:false});
  const axisCommon = {
    gridIndex:p, type:'value', min:TICKS[0], max:TICKS[TICKS.length-1], interval:2,
    axisLine:{show:true, onZero:false, lineStyle:{color:INK, width:1.8}},
    axisTick:{show:true, length:11, lineStyle:{color:INK, width:1.2}},
    splitLine:{show:false},
    axisLabel:{show:true, fontFamily:FONT, fontSize:20, color:INK, formatter:tickFmt, showMinLabel:true, showMaxLabel:true}
  };
  xAxes.push(Object.assign({}, axisCommon, {axisLabel:Object.assign({}, axisCommon.axisLabel, {margin:25})}));
  yAxes.push(Object.assign({}, axisCommon, {axisLabel:Object.assign({}, axisCommon.axisLabel, {margin:17})}));
  P.levels.forEach(([lvl, segs]) => {
    const col = P.pal[lvl.toFixed(2)];
    segs.forEach(seg => {
      series.push({type:'line', xAxisIndex:p, yAxisIndex:p, data:seg, smooth:0.3, symbol:'none', showSymbol:false,
        silent:true, animation:false, z:2, clip:true, lineStyle:{color:col, width:1.3}});
    });
  });
  series.push({type:'scatter', xAxisIndex:p, yAxisIndex:p, symbolSize:1, silent:true, animation:false, z:5,
    itemStyle:{color:'rgba(0,0,0,0)'},
    data:P.labels.map((l, i) => ({value:[l[0], l[1]], name:String(l[2]), label:{rotate:P.angles[i]}})),
    label:{show:true, position:'inside', formatter:q => q.name, fontFamily:FONT, fontSize:14, color:'#2a2a2a',
      backgroundColor:PLOT_BG, padding:[0,1], lineHeight:14}});
});

const rich = {n:{fontFamily:FONT, fontSize:20, fill:INK}, i:{fontFamily:FONT, fontSize:20, fontStyle:'italic', fill:INK}};
function txt(x, y, text, center) {
  return {type:'text', x:x, y:y, z:10, style:{text:text, rich:rich, font:'20px ' + FONT, fill:INK,
    align:center ? 'center' : 'left', textAlign:center ? 'center' : 'left', verticalAlign:'middle', textVerticalAlign:'middle'}};
}
const graphics = [
  {type:'rect', shape:{x:6, y:5, width:1336, height:1738}, style:{fill:'#e3e6f1'}, z:-10},
  txt(350, 30, '{n|95% value-at-risk}', true),
  txt(1001, 30, '{n|99% value-at-risk}', true),
  txt(45, 58, '{n|(}{i|a}{n|) Normal model}', false),
  txt(675, 58, '{n|(}{i|b}{n|) Normal model}', false),
  txt(45, 630, '{n|(}{i|c}{n|) Asymmetric Student-}{i|t}{n| model}', false),
  txt(667, 630, '{n|(}{i|d}{n|) Asymmetric Student-}{i|t}{n| model}', false),
  txt(45, 1206, '{n|(}{i|e}{n|) Parzen estimate}', false),
  txt(678, 1206, '{n|(}{i|f}{n|) Parzen estimate}', false)
];

const chart = echarts.init(document.getElementById('c'), null, {renderer:'canvas'});
chart.setOption({
  backgroundColor:'#ffffff', animation:false,
  grid:grids, xAxis:xAxes, yAxis:yAxes, series:series, graphic:graphics
});
</script></body></html>
